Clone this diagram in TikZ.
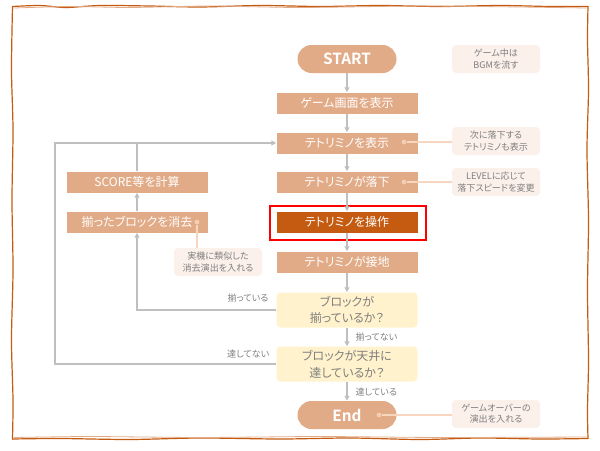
\documentclass[tikz,border=0pt]{standalone}
\usepackage{fontspec}
\setmainfont{Noto Sans CJK JP}[RawFeature=+palt, BoldFont={Noto Sans CJK JP Bold}]
\usetikzlibrary{arrows.meta}
\definecolor{boxtan}{HTML}{E2AB87}
\definecolor{boxdark}{HTML}{C55A11}
\definecolor{askyellow}{HTML}{FFF2CC}
\definecolor{memofill}{HTML}{FBF0EA}
\definecolor{memoline}{HTML}{F8D5BF}
\definecolor{flowgray}{HTML}{BFBFBF}
\definecolor{textgray}{HTML}{7F7F7F}
\tikzstyle{stepbox}=[rectangle, fill=boxtan, text=white, inner sep=0pt,
	                minimum width=105.75pt, minimum height=15.75pt,
	                font=\fontsize{9pt}{11pt}\selectfont]
\tikzstyle{pill}=[stepbox, rounded corners=10.5pt, minimum width=74.25pt,
	                minimum height=21pt, font=\bfseries\fontsize{11.5pt}{13pt}\selectfont]
\tikzstyle{askbox}=[stepbox, fill=askyellow, text=textgray, rounded corners=3pt,
	                minimum height=26.25pt, align=center,
	                font=\fontsize{9pt}{12.5pt}\selectfont]
\tikzstyle{memo}=[rectangle, fill=memofill, text=textgray, rounded corners=3pt,
	                inner sep=0pt, minimum width=66pt, minimum height=21pt, align=center,
	                font=\fontsize{6.8pt}{8.4pt}\selectfont]
\tikzstyle{memodot}=[circle, fill=memoline!80!boxtan, inner sep=0pt, minimum size=3.6pt]
\tikzstyle{memolink}=[draw=memoline, line width=0.9pt]
\tikzstyle{flow}=[draw=flowgray, line width=0.8pt, -{Triangle[width=3.6pt,length=3.6pt]}]
\tikzstyle{branch}=[text=textgray, inner sep=1pt, font=\fontsize{6.8pt}{8pt}\selectfont]
\tikzstyle{frameline}=[boxdark, line width=0.9pt, line cap=round]

\begin{document}
\begin{tikzpicture}[x=0.75pt, y=-0.75pt]
\useasboundingbox (0,0) rectangle (600,450);
% hand drawn frame
\draw[frameline] plot [smooth, tension=0.5] coordinates {
(12.5,6.5) (40,5.5) (66,7.5) (100,5.5) (150,6) (200,7) (260,5.5) (320,6.5) (380,5.5)
(440,6.5) (500,5.5) (550,6.5) (588,6.5)};
\draw[frameline] plot [smooth, tension=0.5] coordinates {
(588,6.5) (587.5,40) (588.5,90) (587,150) (588.5,220) (587.5,290) (588.5,360)
(587.5,410) (588,438.5)};
\draw[frameline] plot [smooth, tension=0.5] coordinates {
(588,438.5) (540,439) (480,438) (420,439.5) (350,438) (280,439) (200,438)
(130,439.5) (60,438.5) (12.5,439)};
\draw[frameline] plot [smooth, tension=0.5] coordinates {
(12.5,439) (13,400) (11.5,340) (13,270) (12,200) (13,130) (11.5,70) (12.5,6.5)};
\draw[boxtan, line width=0.6pt] plot [smooth, tension=0.4] coordinates {
(14,8) (70,6.5) (130,7.5) (210,6) (300,7.5) (420,6) (520,7) (586.5,8)};
\draw[boxtan, line width=0.6pt] plot [smooth, tension=0.4] coordinates {
(14,437.5) (90,436.5) (200,437.5) (320,436.5) (440,437.5) (586.5,437)};

% main flow
\node[pill] (start) at (347,59) {START};
\node[stepbox] (disp) at (347,103) {ゲーム画面を表示};
\node[stepbox] (show) at (347,143) {テトリミノを表示};
\node[stepbox] (fall) at (347,182) {テトリミノが落下};
\node[stepbox, fill=boxdark] (ctrl) at (347,222) {テトリミノを操作};
\node[stepbox] (land) at (347,262) {テトリミノが接地};
\node[askbox] (chk1) at (347,310) {ブロックが\\揃っているか？};
\node[askbox] (chk2) at (347,364) {ブロックが天井に\\達しているか？};
\node[pill] (fin) at (347,415) {End};
\node[draw=red, line width=1.5pt, minimum width=117pt, minimum height=25.5pt,
      inner sep=0pt] (ctrlframe) at (348,222.5) {};

% side boxes
\node[stepbox] (score) at (137,182) {SCORE等を計算};
\node[stepbox] (erase) at (137,222) {揃ったブロックを消去};

% notes
\node[memo] (n1) at (496,59) {ゲーム中は\\BGMを流す};
\node[memo] (n2) at (496,141) {次に落下する\\テトリミノも表示};
\node[memo] (n3) at (496,182) {LEVELに応じて\\落下スピードを変更};
\node[memo] (n4) at (218,262) {実機に類似した\\消去演出を入れる};
\node[memo] (n5) at (496,414) {ゲームオーバーの\\演出を入れる};
\node[memodot] (d2) at (404,142) {};
\node[memodot] (d3) at (404,182) {};
\node[memodot] (d4) at (197,222) {};
\node[memodot] (d5) at (379,415) {};
\draw[memolink] (d2) -- (d2 -| n2.west);
\draw[memolink] (d3) -- (d3 -| n3.west);
\draw[memolink] (d4) -- (d4 |- n4.north);
\draw[memolink] (d5) -- (d5 -| n5.west);

% connectors
\foreach \a/\b in {start/disp, disp/show, show/fall, fall/ctrl, ctrl/land,
                   land/chk1, chk1/chk2, chk2/fin}
	\draw[flow] (\a) -- (\b);
\coordinate (loopcorner) at (55,143);
\draw[flow] (chk1.west) -| (erase.south);
\draw[flow] (erase) -- (score);
\draw[flow] (chk2.west) -| (loopcorner) -- (show.west);
\draw[draw=flowgray, line width=0.8pt] (score.north) -- (score.north |- show.west);

% branch labels
\node[branch, anchor=east] (yes1) at (270,298) {揃っている};
\node[branch, anchor=west] (no1) at (354,337) {揃ってない};
\node[branch, anchor=east] (no2) at (271,354) {達してない};
\node[branch, anchor=west] (yes2) at (354,392) {達している};
\end{tikzpicture}
\end{document}
